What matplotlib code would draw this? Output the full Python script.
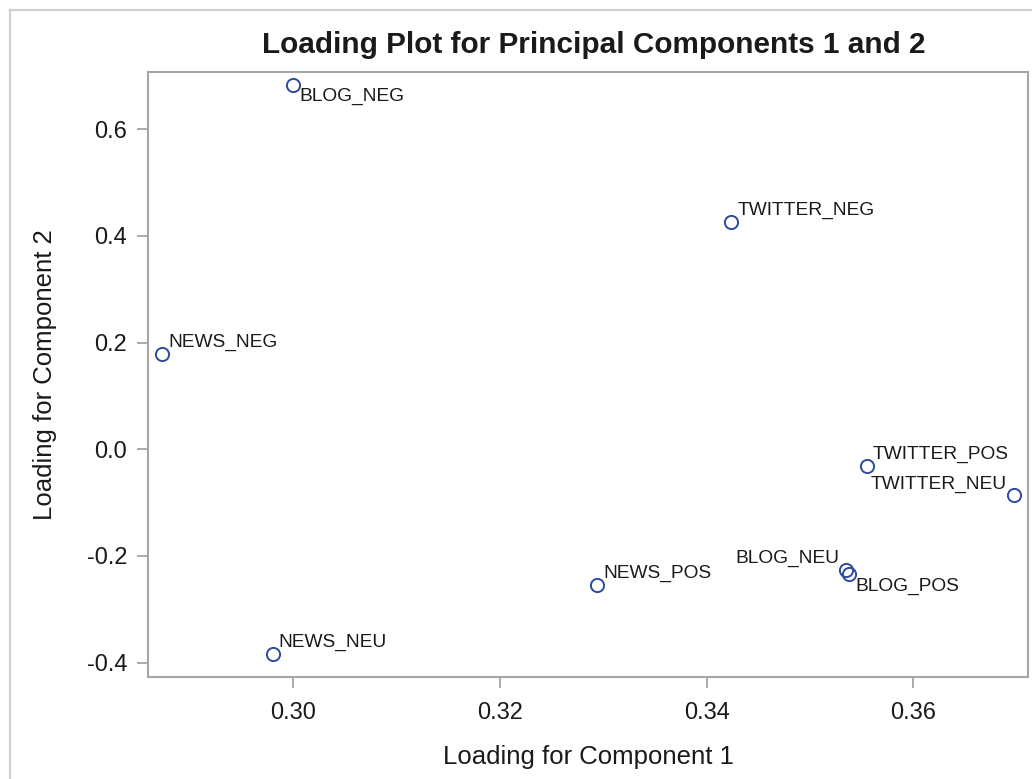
"""Loading plot for principal components 1 and 2 (SAS-style scatter with labels)."""

import matplotlib
matplotlib.use("Agg")
import matplotlib.pyplot as plt
from matplotlib.lines import Line2D

plt.rcParams["font.family"] = ["Liberation Sans", "DejaVu Sans"]

# loadings
variables = ["BLOG_NEG", "TWITTER_NEG", "NEWS_NEG", "TWITTER_POS", "TWITTER_NEU",
             "BLOG_NEU", "BLOG_POS", "NEWS_POS", "NEWS_NEU"]
comp1 = [0.3000, 0.3424, 0.2873, 0.3555, 0.3697, 0.3535, 0.3538, 0.3294, 0.2980]
comp2 = [0.683, 0.427, 0.179, -0.031, -0.086, -0.226, -0.234, -0.254, -0.383]
# where each label sits relative to its marker
label_pos = ["lr", "ur", "ur", "ur", "ul", "ul", "lr", "ur", "ur"]

xticks = [0.30, 0.32, 0.34, 0.36]
yticks = [-0.4, -0.2, 0.0, 0.2, 0.4, 0.6]

AXIS_GREY = "#a6a6a6"
MARKER_BLUE = "#2e4a9c"
TEXT = "#1a1a1a"

fig = plt.figure(figsize=(10.32, 7.79), dpi=100)
ax = fig.add_axes([148 / 1032, 102 / 779, 880 / 1032, 605 / 779])

ax.plot(comp1, comp2, linestyle="none", marker="o", markersize=9.5,
        markerfacecolor="none", markeredgecolor=MARKER_BLUE, markeredgewidth=1.4)

offsets = {"ur": (4.5, 8, "left"), "lr": (4.5, -8.5, "left"), "ul": (-5, 8, "right")}
for name, x, y, pos in zip(variables, comp1, comp2, label_pos):
    dx, dy, ha = offsets[pos]
    ax.annotate(name, (x, y), xytext=(dx, dy), textcoords="offset points",
                ha=ha, va="center", fontsize=13.8, color=TEXT)

ax.set_xlim(0.28594, 0.3711)
ax.set_ylim(-0.4269, 0.7075)
ax.set_xticks(xticks)
ax.set_xticklabels([f"{v:.2f}" for v in xticks])
ax.set_yticks(yticks)
ax.set_yticklabels([f"{v:.1f}" for v in yticks])

for sp in ax.spines.values():
    sp.set_color(AXIS_GREY)
    sp.set_linewidth(1.5)
ax.tick_params(direction="out", length=8, width=1.3, color=AXIS_GREY,
               labelsize=17, labelcolor=TEXT, pad=7)
ax.tick_params(axis="x", pad=10)

ax.set_xlabel("Loading for Component 1", fontsize=18.5, color=TEXT, labelpad=15)
ax.set_ylabel("Loading for Component 2", fontsize=18.5, color=TEXT, labelpad=21)
ax.set_title("Loading Plot for Principal Components 1 and 2", fontsize=21.4,
             fontweight="bold", color=TEXT, pad=14, x=0.507)

# light outer frame (left and top edges visible)
fig.add_artist(Line2D([10 / 1032, 10 / 1032], [0, 1 - 10 / 779],
                      transform=fig.transFigure, color="#cfcfcf", lw=1.6))
fig.add_artist(Line2D([10 / 1032, 1], [1 - 10 / 779, 1 - 10 / 779],
                      transform=fig.transFigure, color="#cfcfcf", lw=1.6))

fig.savefig("out.png", dpi=100)
